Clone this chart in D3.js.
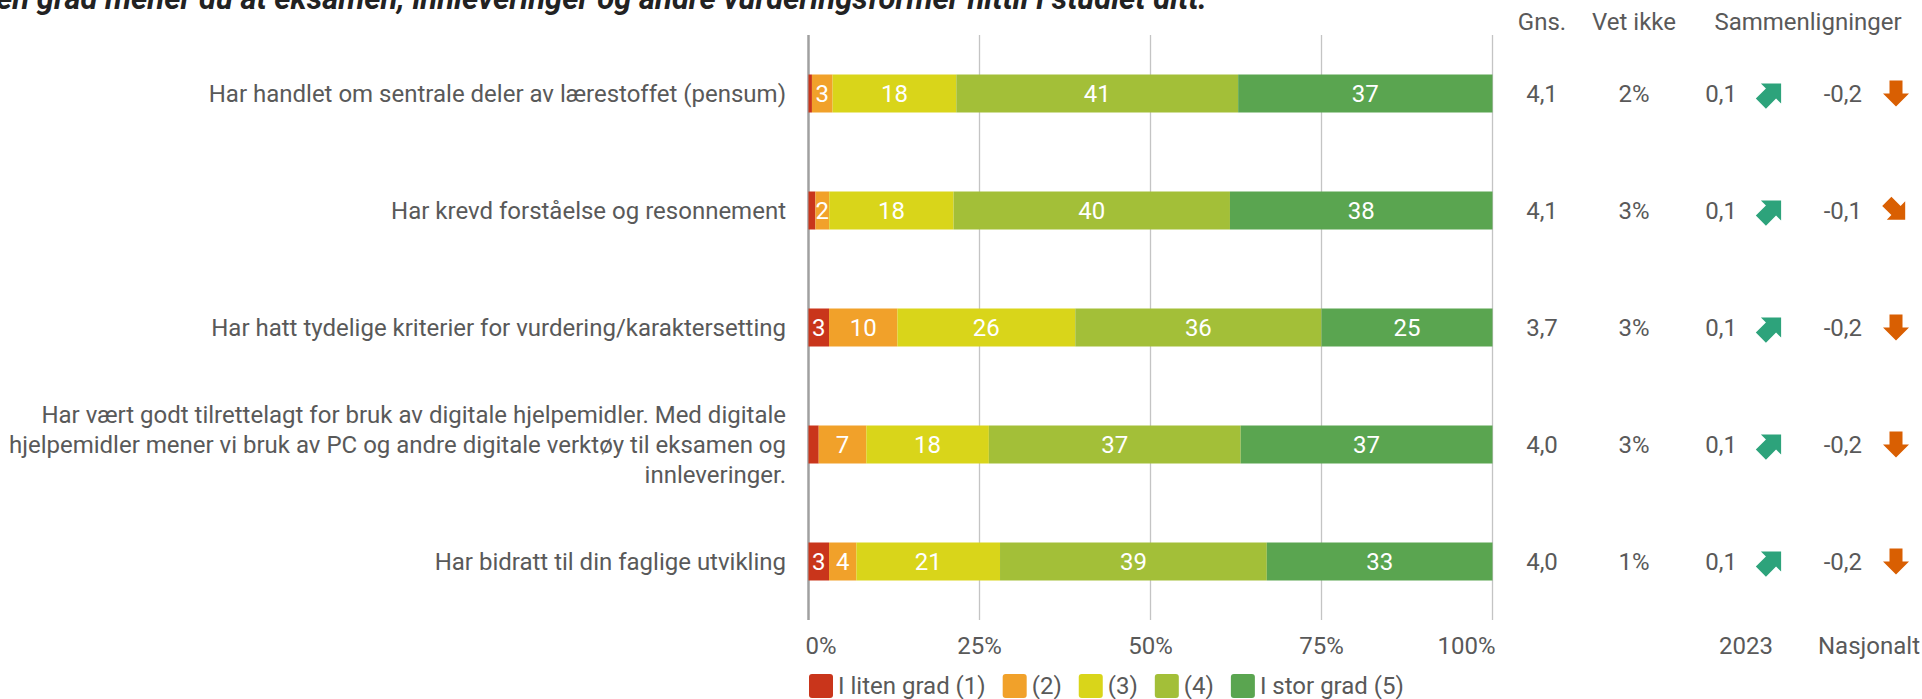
<!DOCTYPE html>
<html>
<head>
<meta charset="utf-8">
<script src="https://cdn.jsdelivr.net/npm/d3@7"></script>
<style>
  body { margin: 0; background: #fff; }
  svg { display: block; font-family: Roboto, sans-serif; }
  .lbl { fill: #595959; font-size: 24px; }
</style>
</head>
<body>
<script>
const title = 'I hvilken grad mener du at eksamen, innleveringer og andre vurderingsformer hittil i studiet ditt:';

const categories = [
  'Har handlet om sentrale deler av lærestoffet (pensum)',
  'Har krevd forståelse og resonnement',
  'Har hatt tydelige kriterier for vurdering/karaktersetting',
  'Har vært godt tilrettelagt for bruk av digitale hjelpemidler. Med digitale\nhjelpemidler mener vi bruk av PC og andre digitale verktøy til eksamen og\ninnleveringer.',
  'Har bidratt til din faglige utvikling'
];

const seriesNames = ['I liten grad (1)', '(2)', '(3)', '(4)', 'I stor grad (5)'];
const seriesColors = ['#c9351b', '#f1a12a', '#d9d51a', '#a3bf38', '#5aa550'];

// percent per category, series 1..5
const s1 = [0.5, 1, 3, 1.5, 3];
const s2 = [3, 2, 10, 7, 4];
const s3 = [18, 18, 26, 18, 21];
const s4 = [41, 40, 36, 37, 39];
const s5 = [37, 38, 25, 37, 33];

const gns = ['4,1', '4,1', '3,7', '4,0', '4,0'];
const vetIkke = ['2%', '3%', '3%', '3%', '1%'];
const diff2023 = [0.1, 0.1, 0.1, 0.1, 0.1];
const diffNasjonalt = [-0.2, -0.1, -0.2, -0.2, -0.2];

const xTicks = [0, 25, 50, 75, 100];

const width = 1922;
const height = 699;

const svg = d3.select('body').append('svg')
  .attr('width', width)
  .attr('height', height);

const x = d3.scaleLinear().domain([0, 100]).range([808.5, 1492.5]);
const y = d3.scalePoint().domain(d3.range(categories.length)).range([35, 620]).padding(0.5);
const barH = 38;

// title (cut off at top, as in the source)
svg.append('text')
  .attr('x', 1207).attr('y', 9)
  .attr('text-anchor', 'end')
  .style('font-size', '31px').style('font-weight', 'bold').style('font-style', 'italic')
  .style('fill', '#222')
  .text(title);

// grid
svg.append('g')
  .selectAll('line')
  .data(xTicks)
  .join('line')
  .attr('x1', d => x(d)).attr('x2', d => x(d))
  .attr('y1', 35).attr('y2', 620)
  .attr('stroke', d => d === 0 ? '#a0a0a0' : '#c4c4c4')
  .attr('stroke-width', d => d === 0 ? 2.5 : 1.3);

svg.append('g')
  .selectAll('text')
  .data(xTicks)
  .join('text')
  .attr('class', 'lbl')
  .attr('x', (d, i) => i === 0 ? x(d) - 3 : i === xTicks.length - 1 ? x(d) + 3 : x(d))
  .attr('y', 646)
  .attr('dy', '0.35em')
  .attr('text-anchor', (d, i) => i === 0 ? 'start' : i === xTicks.length - 1 ? 'end' : 'middle')
  .text(d => d + '%');

// stacked bars
const rows = categories.map((c, i) => {
  const vals = [s1[i], s2[i], s3[i], s4[i], s5[i]];
  const total = d3.sum(vals);
  let acc = 0;
  return vals.map((v, k) => {
    const seg = { row: i, k: k, v: v, x0: acc / total * 100 };
    acc += v;
    seg.x1 = acc / total * 100;
    return seg;
  });
});

const segs = svg.append('g')
  .selectAll('g')
  .data(rows.flat())
  .join('g');

segs.append('rect')
  .attr('x', d => x(d.x0))
  .attr('width', d => x(d.x1) - x(d.x0))
  .attr('y', d => y(d.row) - barH / 2)
  .attr('height', barH)
  .attr('fill', d => seriesColors[d.k]);

segs.filter(d => d.v >= 2)
  .append('text')
  .attr('x', d => (x(d.x0) + x(d.x1)) / 2)
  .attr('y', d => y(d.row))
  .attr('dy', '0.35em')
  .attr('text-anchor', 'middle')
  .style('font-size', '24px')
  .style('fill', '#fff')
  .text(d => Math.round(d.v));

// category labels
const lineH = 30;
svg.append('g')
  .selectAll('text')
  .data(categories)
  .join('text')
  .attr('class', 'lbl')
  .attr('text-anchor', 'end')
  .each(function(d, i) {
    const lines = d.split('\n');
    const t = d3.select(this);
    lines.forEach((l, j) => {
      t.append('tspan')
        .attr('x', 786)
        .attr('y', y(i) + (j - (lines.length - 1) / 2) * lineH)
        .attr('dy', '0.35em')
        .text(l);
    });
  });

// right-hand columns
const headers = [
  { t: 'Gns.', x: 1542 },
  { t: 'Vet ikke', x: 1634 },
  { t: 'Sammenligninger', x: 1808 }
];
svg.append('g')
  .selectAll('text')
  .data(headers)
  .join('text')
  .attr('class', 'lbl')
  .attr('x', d => d.x).attr('y', 22).attr('dy', '0.35em')
  .attr('text-anchor', 'middle')
  .text(d => d.t);

const footers = [
  { t: '2023', x: 1746 },
  { t: 'Nasjonalt', x: 1869 }
];
svg.append('g')
  .selectAll('text')
  .data(footers)
  .join('text')
  .attr('class', 'lbl')
  .attr('x', d => d.x).attr('y', 646).attr('dy', '0.35em')
  .attr('text-anchor', 'middle')
  .text(d => d.t);

const fmt = v => String(v).replace('.', ',');

const cols = svg.append('g')
  .selectAll('g')
  .data(categories)
  .join('g')
  .attr('transform', (d, i) => `translate(0,${y(i)})`);

cols.append('text').attr('class', 'lbl')
  .attr('x', 1542).attr('dy', '0.35em').attr('text-anchor', 'middle')
  .text((d, i) => gns[i]);
cols.append('text').attr('class', 'lbl')
  .attr('x', 1634).attr('dy', '0.35em').attr('text-anchor', 'middle')
  .text((d, i) => vetIkke[i]);
cols.append('text').attr('class', 'lbl')
  .attr('x', 1737).attr('dy', '0.35em').attr('text-anchor', 'end')
  .text((d, i) => fmt(diff2023[i]));
cols.append('text').attr('class', 'lbl')
  .attr('x', 1862).attr('dy', '0.35em').attr('text-anchor', 'end')
  .text((d, i) => fmt(diffNasjonalt[i]));

// block arrow pointing up, centred on 0,0
const arrowPath = 'M0,-13 L13,0 L6.5,0 L6.5,13 L-6.5,13 L-6.5,0 L-13,0 Z';
const arrowAngle = v => v >= 0.2 ? 0 : v > 0 ? 45 : v > -0.2 ? 135 : 180;
const arrowColor = v => v > 0 ? '#2da37b' : '#d95f02';

cols.append('path')
  .attr('d', arrowPath)
  .attr('transform', (d, i) => `translate(1771,0) rotate(${arrowAngle(diff2023[i])}) scale(1.1)`)
  .attr('fill', (d, i) => arrowColor(diff2023[i]));
cols.append('path')
  .attr('d', arrowPath)
  .attr('transform', (d, i) => `translate(1896,0) rotate(${arrowAngle(diffNasjonalt[i])})`)
  .attr('fill', (d, i) => arrowColor(diffNasjonalt[i]));

// legend
const legend = svg.append('g').attr('transform', 'translate(809,686)');
let lx = 0;
seriesNames.forEach((name, k) => {
  const item = legend.append('g').attr('transform', `translate(${lx},0)`);
  item.append('rect')
    .attr('x', 0).attr('y', -12)
    .attr('width', 24).attr('height', 24)
    .attr('rx', 3)
    .attr('fill', seriesColors[k]);
  const t = item.append('text')
    .attr('class', 'lbl')
    .attr('x', 29).attr('dy', '0.35em')
    .text(name);
  lx += 29 + t.node().getComputedTextLength() + 17;
});
</script>
</body>
</html>
